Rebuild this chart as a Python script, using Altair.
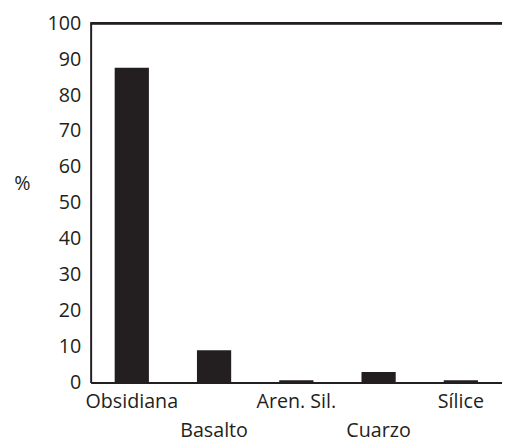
import altair as alt
import pandas as pd

categories = ["Obsidiana", "Basalto", "Aren. Sil.", "Cuarzo", "Sílice"]
values = [87.6, 9.0, 0.6, 2.9, 0.6]
label_row = [0, 1, 0, 1, 0]
y_ticks = list(range(0, 101, 10))

df = pd.DataFrame({"cat": categories, "val": values, "row": label_row})

INK = "#231f20"
FONT = "Open Sans"
W, H = 418, 365

yscale = alt.Scale(domain=[0, 100], nice=False)
yaxis = alt.Axis(values=y_ticks, ticks=False, grid=False, domainColor=INK,
                 domainWidth=2, labelFont=FONT, labelFontSize=20,
                 labelColor=INK, labelPadding=10, labelOverlap=False,
                 labelBound=False,
                 title="%", titleAngle=0, titleFont=FONT, titleFontSize=20,
                 titleFontWeight="normal", titleColor=INK,
                 titleX=-70, titleY=163, titleAlign="center",
                 titleBaseline="middle")

xenc = alt.X("cat:N", sort=categories,
             scale=alt.Scale(paddingInner=0.584, paddingOuter=0.292),
             axis=alt.Axis(labels=False, ticks=False, title=None, domain=True,
                           domainColor=INK, domainWidth=2))

bars = alt.Chart(df).mark_bar(color=INK).encode(
    x=xenc,
    y=alt.Y("val:Q", scale=yscale, axis=yaxis),
)

top_line = alt.Chart(df).transform_calculate(top="100").mark_rule(
    color=INK, strokeWidth=2
).encode(y=alt.Y("top:Q", scale=yscale, axis=yaxis))

lab_top = alt.Chart(df).transform_filter("datum.row == 0").mark_text(
    font=FONT, fontSize=20, color=INK, baseline="alphabetic", align="center"
).encode(x=alt.X("cat:N", sort=categories), y=alt.value(H + 26), text="cat:N")

lab_bot = alt.Chart(df).transform_filter("datum.row == 1").mark_text(
    font=FONT, fontSize=20, color=INK, baseline="alphabetic", align="center"
).encode(x=alt.X("cat:N", sort=categories), y=alt.value(H + 55), text="cat:N")

chart = alt.layer(bars, top_line, lab_top, lab_bot).properties(
    width=W, height=H,
    autosize=alt.AutoSizeParams(type="none"),
    padding={"left": 84, "top": 12, "right": 0, "bottom": 60},
).configure_view(stroke=None).configure(background="white")

chart.save("out.html", embed_options={"renderer": "svg", "actions": False})
